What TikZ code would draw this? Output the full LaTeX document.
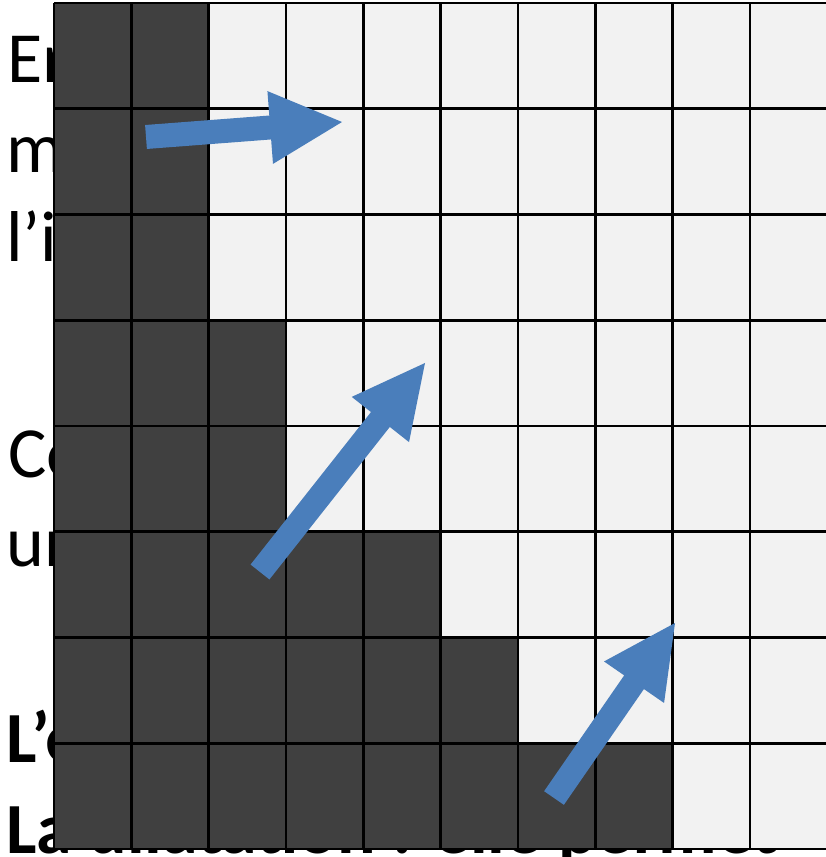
\documentclass[tikz,border=0pt]{standalone}
\usepackage{fontspec}
\setmainfont{Carlito}
\usepackage{xcolor}
\usetikzlibrary{calc}
\definecolor{darkcell}{HTML}{404040}
\definecolor{lightcell}{HTML}{F2F2F2}
\definecolor{arrowblue}{HTML}{4A7EBB}

% block arrow from tail #1 to tip #2
\newcommand\blockarrow[2]{%
  \coordinate (#1base) at ($(#2)!72pt!(#1)$);
  \fill[arrowblue] ($(#1)!12pt!90:(#2)$) -- ($(#1base)!12pt!90:(#2)$)
    -- ($(#1base)!36.5pt!90:(#2)$) -- (#2) -- ($(#1base)!36.5pt!-90:(#2)$)
    -- ($(#1base)!12pt!-90:(#2)$) -- ($(#1)!12pt!-90:(#2)$) -- cycle;}

\begin{document}
\begin{tikzpicture}[x=1pt, y=1pt,
  txt/.style={anchor=base west, inner sep=0pt, font=\fontsize{72}{86}\selectfont},
  gridline/.style={line width=2.8pt, black}]
\useasboundingbox (0,0) rectangle (825,857);
% text behind the grid
\node[txt] (en) at (7,774) {En};
\node[txt] (m) at (6,684) {m};
\node[txt] (li) at (6,595) {l’i};
\node[txt] (co) at (8,379) {Co};
\node[txt] (un) at (6,290) {un};
\node[txt, font=\fontsize{72}{86}\selectfont\bfseries] (le) at (6,94) {L’é};
\node[txt, font=\fontsize{72}{86}\selectfont\bfseries] (la) at (6,4) {La dilatation : elle permet};
% grid
\begin{scope}[shift={(54,854)}, x=77.33pt, y=-105.75pt]
  \fill[lightcell] (0,0) rectangle (10,8);
  \foreach \r/\n in {0/2,1/2,2/2,3/3,4/3,5/5,6/6,7/8}
    \fill[darkcell] (0,\r) rectangle (\n,\r+1);
  \foreach \i in {0,...,10} \draw[gridline] (\i,0) -- (\i,8);
  \foreach \j in {0,...,8} \draw[gridline] (0,\j) -- (10,\j);
\end{scope}
% arrows
\coordinate (t1) at (146,720); \coordinate (h1) at (342,735);
\coordinate (t2) at (260,285); \coordinate (h2) at (425,494);
\coordinate (t3) at (554,59);  \coordinate (h3) at (675,234);
\blockarrow{t1}{h1}
\blockarrow{t2}{h2}
\blockarrow{t3}{h3}
\end{tikzpicture}
\end{document}
